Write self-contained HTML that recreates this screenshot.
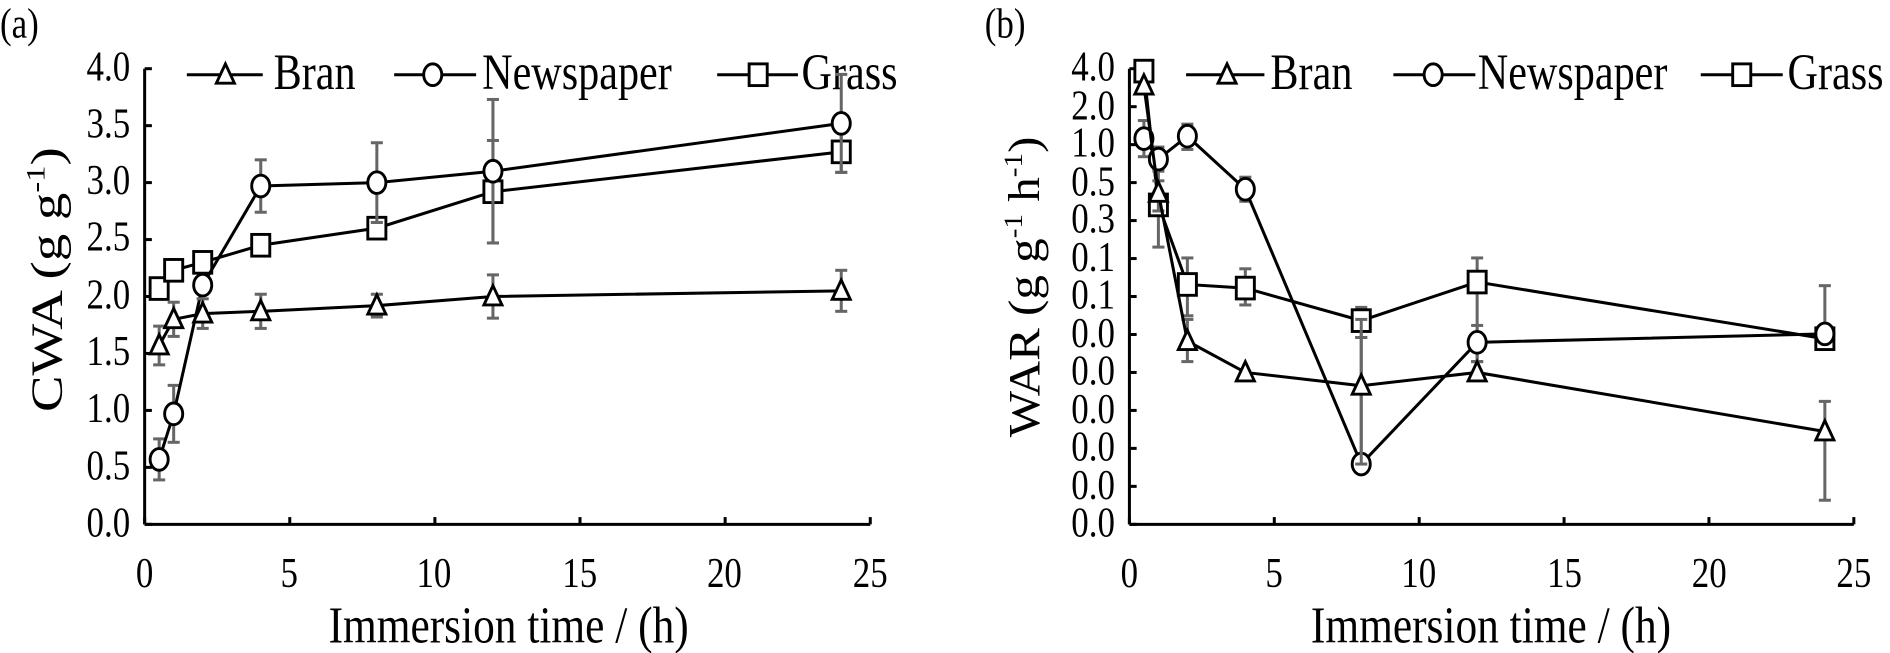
<!DOCTYPE html>
<html><head><meta charset="utf-8"><style>
html,body{margin:0;padding:0;background:#fff;}
svg{display:block;}
text{font-family:"Liberation Serif","Times New Roman",serif;}
</style></head><body>
<svg id="s" width="1890" height="653" viewBox="0 0 1568 541.75" xmlns="http://www.w3.org/2000/svg">
<g font-size="29" fill="#000" font-family="Liberation Serif, serif">
<text class="v" x="0" y="31">(a)</text>
<text class="v" x="817" y="31">(b)</text>
<g text-anchor="end">
<text class="v" x="108" y="445">0.0</text><text class="v" x="108" y="398">0.5</text><text class="v" x="108" y="350">1.0</text><text class="v" x="108" y="303">1.5</text><text class="v" x="108" y="256">2.0</text><text class="v" x="108" y="208">2.5</text><text class="v" x="108" y="161">3.0</text><text class="v" x="108" y="114">3.5</text><text class="v" x="108" y="67">4.0</text>
</g>
<g text-anchor="middle">
<text class="v" x="120" y="487">0</text><text class="v" x="240" y="487">5</text><text class="v" x="360" y="487">10</text><text class="v" x="481" y="487">15</text><text class="v" x="601" y="487">20</text><text class="v" x="722" y="487">25</text>
<text class="v" x="937" y="487">0</text><text class="v" x="1057" y="487">5</text><text class="v" x="1177" y="487">10</text><text class="v" x="1298" y="487">15</text><text class="v" x="1418" y="487">20</text><text class="v" x="1538" y="487">25</text>
<text class="v" x="422" y="533" font-size="36">Immersion time / (h)</text>
<text class="v" x="1237" y="533" font-size="36">Immersion time / (h)</text>
</g>
<g text-anchor="end">
<text class="v" x="925" y="445">0.0</text><text class="v" x="925" y="414">0.0</text><text class="v" x="925" y="382">0.0</text><text class="v" x="925" y="351">0.0</text><text class="v" x="925" y="319">0.0</text><text class="v" x="925" y="288">0.0</text><text class="v" x="925" y="256">0.1</text><text class="v" x="925" y="225">0.1</text><text class="v" x="925" y="193">0.3</text><text class="v" x="925" y="162">0.5</text><text class="v" x="925" y="130">1.0</text><text class="v" x="925" y="99">2.0</text><text class="v" x="925" y="67">4.0</text>
</g>
<g transform="translate(51,232) scale(1,1.23) rotate(-90)"><text x="0" y="0" text-anchor="middle" font-size="37">CWA (g g<tspan font-size="22" dy="-14">-1</tspan><tspan dy="14">)</tspan></text></g>
<g transform="translate(862,238) scale(1,1.1) rotate(-90)"><text x="0" y="0" text-anchor="middle" font-size="37">WAR (g g<tspan font-size="22" dy="-14">-1</tspan><tspan dy="14"> h</tspan><tspan font-size="22" dy="-14">-1</tspan><tspan dy="14">)</tspan></text></g>
<text class="v" x="227" y="74" font-size="35">Bran</text>
<text class="v" x="400" y="74" font-size="35">Newspaper</text>
<text class="v" x="665" y="74" font-size="35">Grass</text>
<text class="v" x="1054" y="74" font-size="35">Bran</text>
<text class="v" x="1226" y="74" font-size="35">Newspaper</text>
<text class="v" x="1483" y="74" font-size="35">Grass</text>
</g>
<g id="g"></g>
</svg>
<script>
document.querySelectorAll('text.v').forEach(function(t){var y=+t.getAttribute('y');t.setAttribute('transform','matrix(1,0,0,1.2,0,'+(-0.2*y)+')');});
var NS="http://www.w3.org/2000/svg",G=document.getElementById('g');
function el(t,a){var e=document.createElementNS(NS,t);for(var k in a)e.setAttribute(k,a[k]);G.appendChild(e);return e;}
function line(x1,y1,x2,y2,c,w){el('line',{x1:x1,y1:y1,x2:x2,y2:y2,stroke:c||'#000','stroke-width':w||2.5});}
function mk(type,x,y){var s={fill:'#fff',stroke:'#000','stroke-width':2.4};
 if(type=='t'){s.points=(x)+','+(y-9)+' '+(x-7.5)+','+(y+7)+' '+(x+7.5)+','+(y+7);el('polygon',s);}
 else if(type=='c'){s.cx=x;s.cy=y;s.rx=7.5;s.ry=9;el('ellipse',s);}
 else {s.x=x-7.5;s.y=y-9;s.width=15;s.height=18;el('rect',s);}}
function err(x,a,b){line(x,a,x,b,'#666',2.5);line(x-5,a,x+5,a,'#666',2.5);line(x-5,b,x+5,b,'#666',2.5);}
line(120,57,120,435,'#000',2.5);line(120,435,722,435,'#000',2.5);
for(var i=0;i<=8;i++){var y=435-i*47.25;line(120,y,126,y);}
for(var i=0;i<=5;i++){var x=120+i*120.4;line(x,435,x,429);}
line(937,57,937,435,'#000',2.5);line(937,435,1538,435,'#000',2.5);
for(var i=0;i<=12;i++){var y=435-i*31.5;line(937,y,943,y);}
for(var i=0;i<=5;i++){var x=937+i*120.2;line(x,435,x,429);}
var T=[0.5,1,2,4,8,12,24];
function ax(t){return 120+t*24.08;} function ay(v){return 435-v*94.5;}
function series(X,Y,E,type){for(var i=0;i<X.length;i++){if(E[i])err(X[i],E[i][0],E[i][1]);}
 var d='';for(var i=0;i<X.length;i++)d+=(i?'L':'M')+X[i]+' '+Y[i];
 el('path',{d:d,fill:'none',stroke:'#000','stroke-width':2.5});
 for(var i=0;i<X.length;i++)mk(type,X[i],Y[i]);}
var XA=T.map(ax);
function ea(v,e){return [ay(v+e),ay(v-e)];}
var bran=[1.57,1.8,1.85,1.87,1.92,2.0,2.05],be=[.17,.15,.13,.15,.1,.19,.18];
var news=[0.57,0.97,2.1,2.97,3.0,3.1,3.52],ne=[.18,.25,0,.23,.35,.63,.43];
var grass=[2.07,2.23,2.3,2.45,2.6,2.92,3.27],ge=[0,0,0,0,0,.45,.18];
series(XA,grass.map(ay),grass.map(function(v,i){return ge[i]?ea(v,ge[i]):null}),'s');
series(XA,news.map(ay),news.map(function(v,i){return ne[i]?ea(v,ne[i]):null}),'c');
series(XA,bran.map(ay),bran.map(function(v,i){return ea(v,be[i])}),'t');
var XB=T.map(function(t){return 937+t*24.04;});
series(XB,[59,170,236,239,266,234,281],[null,[140,205],[214,262],[223,253],[255,280],[214,300],null],'s');
series(XB,[115,132,113,157,385,284,277],[[100,130],[122,142],[103,124],[147,167],[265,385],[270,300],[237,280]],'c');
series(XB,[71,160,283,309,320,309,358],[null,[150,175],[265,300],null,[280,385],null,[333,415]],'t');
function leg(x1,x2,m,y,t){line(x1,y,x2,y,'#000',2.5);mk(t,m,y);}
leg(155,218,187,62,'t');leg(327,395,359,62,'c');leg(595,662,629,62,'s');
leg(984,1049,1018,62,'t');leg(1156,1224,1189,62,'c');leg(1411,1479,1445,62,'s');
</script>
</body></html>
